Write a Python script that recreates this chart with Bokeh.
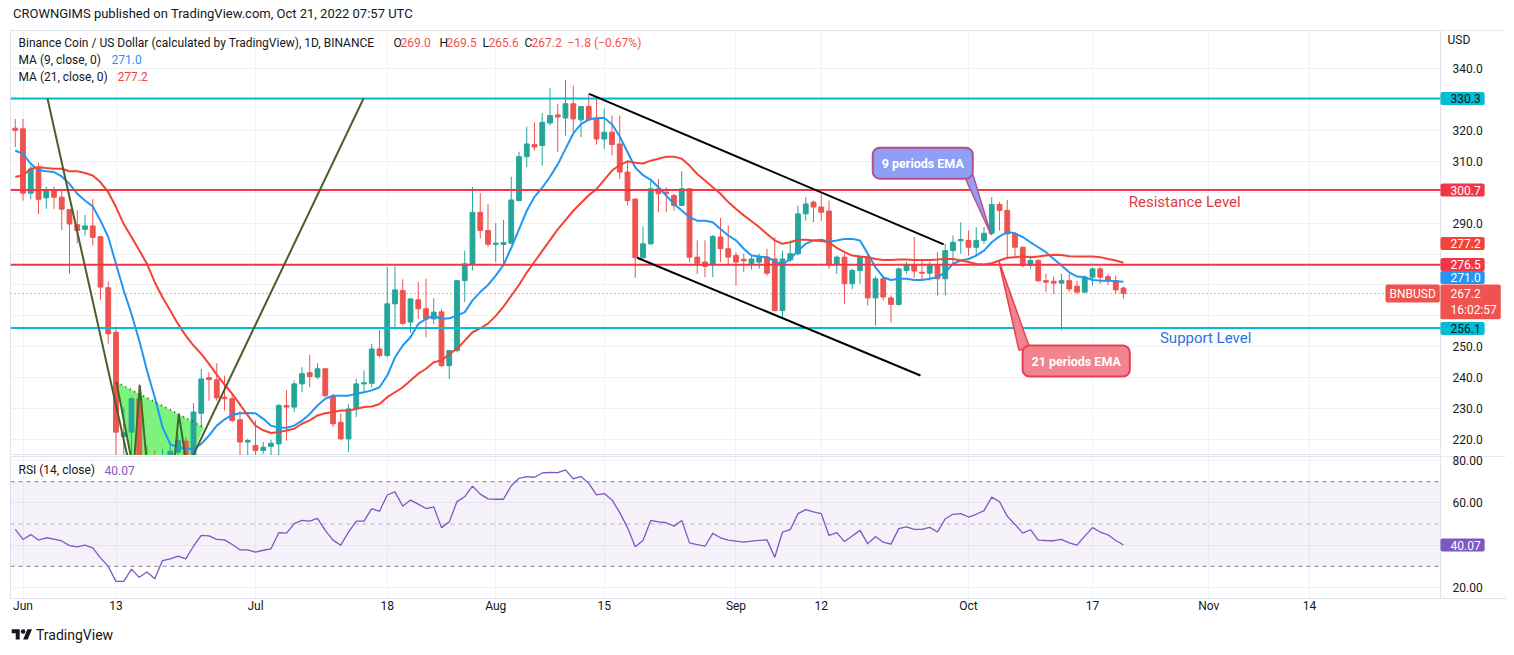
import pandas as pd
from bokeh.plotting import figure
from bokeh.layouts import column
from bokeh.models import (ColumnDataSource, Range1d, FixedTicker, Grid, Label,
                          BoxAnnotation, Div, NumeralTickFormatter)
from bokeh.embed import file_html
from bokeh.resources import INLINE

# ---- data (BNB/USD, 1D) ----
first_day = "2022-05-31"

opens = [320.7, 320.5, 299.7, 308.1, 298.2, 300.5, 298.4, 294.4, 289.5, 288.0,
         289.1, 285.6, 269.1, 254.7, 221.0, 222.4, 233.2, 207.0, 204.0, 198.0,
         212.0, 215.9, 219.5, 213.5, 228.5, 240.0, 239.3, 233.7, 233.2, 226.4,
         219.2, 218.1, 216.5, 217.8, 218.6, 231.0, 230.5, 238.0, 241.6, 240.2,
         242.9, 233.9, 225.6, 220.2, 229.9, 238.0, 238.2, 249.3, 247.2, 263.9,
         268.2, 258.0, 265.2, 262.3, 259.0, 261.3, 243.9, 248.8, 271.4, 276.8,
         293.5, 287.6, 283.1, 283.1, 283.5, 297.3, 311.5, 315.4, 315.1, 322.4,
         325.0, 324.0, 328.6, 323.4, 327.7, 323.7, 317.2, 319.4, 315.6, 306.5,
         297.8, 278.8, 283.3, 301.1, 300.0, 298.9, 295.7, 301.1, 279.0, 277.4,
         276.8, 285.5, 281.7, 279.5, 278.3, 277.0, 277.4, 279.0, 278.4, 261.7,
         278.1, 280.1, 293.0, 296.8, 295.2, 293.9, 276.8, 279.0, 270.4, 274.7,
         279.0, 265.8, 272.0, 265.8, 263.7, 274.7, 276.3, 274.1, 273.8, 276.3,
         272.0, 281.1, 284.3, 284.4, 282.2, 284.4, 286.7, 296.0, 294.1, 286.5,
         282.2, 276.3, 277.9, 271.4, 271.2, 270.6, 271.4, 269.6, 267.7, 272.5,
         275.2, 272.7, 271.4, 269.0]
highs = [323.7, 323.7, 308.6, 309.5, 301.8, 301.8, 301.1, 294.6, 294.1, 292.7,
         297.8, 285.8, 271.1, 256.5, 230.5, 233.7, 238.0, 218.0, 216.5, 217.0,
         219.0, 221.7, 220.8, 231.8, 242.9, 241.8, 244.7, 240.7, 234.8, 229.2,
         220.3, 226.2, 219.2, 219.9, 231.5, 235.9, 239.1, 243.4, 247.4, 244.7,
         243.0, 234.8, 228.3, 231.5, 239.6, 242.3, 251.0, 255.5, 275.8, 276.0,
         271.8, 265.5, 271.0, 272.0, 265.7, 262.3, 248.5, 271.6, 281.1, 301.7,
         299.7, 296.2, 290.0, 291.0, 305.0, 313.0, 321.2, 322.6, 325.6, 333.6,
         328.6, 336.3, 334.5, 327.7, 332.0, 330.2, 327.0, 324.8, 324.8, 310.2,
         297.9, 288.9, 303.8, 304.3, 301.6, 299.5, 306.8, 301.3, 284.4, 284.4,
         286.2, 291.7, 289.2, 280.6, 280.1, 279.5, 280.1, 281.7, 285.5, 281.1,
         284.4, 295.7, 298.4, 297.3, 299.5, 297.3, 279.5, 280.1, 275.2, 279.5,
         280.1, 272.7, 272.5, 266.6, 275.7, 277.4, 285.5, 278.4, 277.4, 280.6,
         283.3, 286.0, 290.3, 287.6, 288.7, 288.7, 298.4, 296.8, 297.5, 287.1,
         282.4, 279.5, 278.4, 273.6, 272.7, 273.6, 273.6, 271.4, 273.1, 275.7,
         275.7, 273.6, 273.1, 269.5]
lows = [314.6, 297.3, 297.7, 293.0, 294.6, 294.6, 287.8, 273.6, 283.5, 286.0,
        282.7, 265.2, 251.0, 210.0, 212.0, 213.0, 200.0, 198.0, 190.0, 183.0,
        208.0, 212.0, 210.0, 212.0, 224.0, 232.6, 232.6, 229.4, 225.6, 213.0,
        214.0, 213.0, 215.4, 214.0, 214.5, 219.7, 228.9, 235.3, 236.9, 239.6,
        233.7, 224.0, 220.0, 216.0, 227.3, 235.3, 236.9, 246.6, 246.6, 256.4,
        256.9, 254.5, 259.0, 253.1, 257.4, 243.4, 239.6, 248.2, 264.5, 274.7,
        285.0, 282.2, 277.4, 276.8, 283.3, 297.1, 308.1, 313.5, 308.6, 321.6,
        313.0, 318.3, 319.4, 317.8, 323.0, 315.4, 314.0, 311.9, 304.3, 295.7,
        272.3, 278.5, 283.0, 293.5, 293.5, 294.1, 295.5, 277.4, 273.6, 272.5,
        272.5, 277.4, 276.8, 269.8, 274.1, 275.0, 275.2, 273.0, 261.5, 259.6,
        277.4, 279.5, 290.8, 290.3, 290.8, 275.2, 273.6, 263.9, 268.7, 270.4,
        263.3, 256.9, 265.0, 257.9, 263.3, 273.6, 272.3, 271.4, 271.4, 266.6,
        266.6, 276.8, 280.1, 279.5, 279.5, 283.3, 286.0, 287.6, 278.4, 279.0,
        275.7, 275.2, 270.9, 267.7, 267.1, 255.3, 267.7, 267.1, 267.3, 269.8,
        270.4, 270.0, 267.1, 265.6]
closes = [320.0, 299.7, 307.5, 297.7, 300.5, 298.4, 294.5, 289.7, 287.6, 289.1,
          285.4, 269.3, 254.2, 222.4, 222.3, 233.2, 207.0, 204.0, 198.0, 206.0,
          216.2, 219.7, 213.5, 228.9, 239.6, 239.4, 233.5, 233.2, 226.2, 219.2,
          219.7, 216.5, 217.5, 218.8, 231.0, 230.5, 238.0, 241.3, 240.4, 242.9,
          234.2, 225.1, 220.2, 229.9, 238.0, 238.4, 249.3, 247.2, 263.9, 268.4,
          257.6, 265.5, 262.3, 259.0, 261.2, 243.9, 248.8, 271.4, 276.8, 293.5,
          287.6, 283.2, 283.5, 283.7, 297.5, 311.5, 315.6, 314.6, 322.6, 324.8,
          324.3, 328.6, 323.7, 327.7, 323.4, 317.2, 319.4, 315.4, 306.5, 297.3,
          278.8, 283.3, 301.1, 299.5, 299.5, 295.7, 301.1, 279.0, 277.0, 276.0,
          285.7, 281.7, 279.0, 277.4, 277.8, 278.4, 279.2, 273.8, 261.7, 278.4,
          280.1, 293.0, 296.2, 295.2, 293.5, 276.8, 279.0, 270.4, 274.7, 279.0,
          265.8, 272.0, 266.1, 263.7, 275.2, 276.3, 274.5, 273.8, 276.3, 272.0,
          281.1, 283.8, 284.7, 282.2, 284.4, 286.7, 296.0, 294.1, 286.5, 282.2,
          276.3, 277.9, 271.4, 270.9, 270.6, 271.4, 268.7, 267.7, 272.5, 275.2,
          272.5, 271.6, 268.4, 267.2]

ma9 = [313.5, 312.4, 309.2, 307.2, 306.8, 306.5, 305.1, 302.7, 299.5, 297.3,
       295.4, 290.8, 285.5, 276.8, 268.2, 260.6, 252.0, 242.3, 233.7, 224.0,
       218.5, 217.5, 217.0, 217.0, 218.6, 221.3, 224.5, 226.5, 228.0, 228.5,
       228.6, 228.5, 226.7, 224.5, 223.8, 223.8, 224.5, 226.1, 228.3, 231.0,
       233.2, 234.2, 234.2, 234.2, 234.8, 235.3, 235.9, 236.9, 240.7, 246.6,
       250.4, 253.1, 257.4, 259.0, 260.1, 259.0, 259.2, 260.1, 261.2, 265.0,
       267.7, 270.0, 273.0, 276.5, 282.0, 288.0, 294.0, 298.5, 301.5, 305.0,
       309.0, 314.0, 319.0, 322.0, 323.5, 324.0, 324.0, 322.0, 318.0, 313.0,
       308.0, 305.5, 304.0, 301.6, 298.9, 296.2, 294.1, 291.9, 290.8, 290.8,
       290.3, 288.1, 286.0, 284.4, 281.7, 279.5, 279.2, 279.0, 277.7, 276.6,
       278.4, 281.1, 283.3, 284.4, 284.6, 284.0, 284.4, 284.9, 284.9, 284.4,
       280.1, 275.7, 272.5, 271.6, 272.0, 272.0, 271.6, 271.6, 272.0, 272.5,
       274.1, 276.8, 277.9, 278.4, 279.5, 281.1, 283.8, 285.7, 287.1, 286.7,
       285.5, 283.8, 282.2, 280.6, 278.4, 276.3, 274.1, 272.7, 272.5, 271.6,
       271.4, 271.4, 271.2, 271.0]
ma21 = [305.0, 305.4, 307.6, 308.1, 307.8, 307.6, 307.6, 306.8, 306.8, 306.2,
        305.4, 303.2, 300.0, 295.2, 289.7, 285.5, 281.2, 276.8, 270.9, 266.0,
        261.7, 257.4, 253.6, 250.4, 247.7, 244.5, 241.0, 237.8, 234.8, 231.3,
        227.8, 224.5, 223.0, 222.1, 222.4, 222.9, 223.5, 225.1, 226.2, 227.8,
        228.5, 228.9, 229.4, 229.4, 229.9, 230.5, 230.7, 231.5, 233.7, 235.3,
        236.9, 239.1, 241.3, 242.9, 245.0, 245.6, 247.7, 249.3, 252.0, 254.7,
        256.0, 257.5, 260.0, 263.0, 266.5, 270.0, 274.0, 277.5, 281.0, 284.5,
        288.0, 291.0, 294.0, 296.5, 299.0, 301.0, 304.0, 307.0, 308.8, 310.0,
        309.5, 309.3, 310.2, 310.8, 311.5, 311.5, 310.8, 308.6, 305.9, 303.8,
        301.6, 299.5, 296.8, 294.6, 292.5, 290.6, 288.7, 286.5, 284.4, 283.3,
        283.8, 284.6, 284.6, 284.4, 284.2, 283.8, 282.0, 280.6, 279.5, 279.2,
        279.0, 278.4, 278.1, 278.1, 278.2, 278.2, 278.1, 278.1, 278.1, 278.2,
        278.4, 278.4, 277.9, 277.4, 276.8, 276.6, 277.0, 277.9, 278.8, 279.0,
        279.2, 279.0, 279.2, 279.5, 279.8, 279.7, 279.3, 279.2, 279.2, 279.2,
        279.0, 278.4, 277.9, 277.2]
rsi = [47.5, 42.7, 45.0, 42.4, 43.5, 42.9, 42.0, 39.8, 39.2, 40.0,
       38.7, 34.0, 30.0, 22.9, 22.9, 28.7, 24.8, 27.3, 24.1, 32.7,
       33.5, 34.8, 33.5, 39.5, 44.6, 44.4, 42.7, 42.5, 40.3, 37.8,
       37.8, 36.7, 37.6, 38.3, 45.9, 45.7, 50.2, 51.7, 51.4, 52.7,
       47.0, 42.4, 40.0, 46.2, 51.4, 51.4, 57.3, 56.0, 63.7, 65.2,
       58.4, 61.3, 59.4, 57.3, 58.1, 48.3, 51.0, 60.6, 62.9, 67.9,
       64.1, 61.9, 61.7, 61.7, 68.1, 71.6, 72.4, 72.1, 74.1, 74.4,
       74.3, 75.6, 71.3, 72.5, 69.2, 63.8, 64.4, 61.4, 55.4, 48.3,
       39.2, 42.2, 51.7, 51.0, 50.6, 49.0, 51.7, 41.1, 40.3, 39.5,
       45.6, 43.5, 42.4, 41.9, 41.4, 41.9, 42.3, 42.5, 34.3, 46.2,
       47.3, 54.9, 56.8, 55.7, 54.9, 44.6, 45.9, 41.7, 44.3, 47.0,
       40.6, 44.1, 41.4, 40.5, 47.8, 48.6, 47.5, 47.5, 48.4, 46.2,
       52.5, 54.6, 54.9, 53.3, 54.6, 56.3, 62.7, 60.5, 53.7, 49.8,
       45.7, 47.3, 42.4, 42.2, 42.1, 42.7, 41.1, 40.0, 44.3, 48.3,
       46.2, 44.9, 42.2, 40.07]

tick_dates = ["2022-06-01", "2022-06-13", "2022-07-01", "2022-07-18", "2022-08-01",
              "2022-08-15", "2022-09-01", "2022-09-12", "2022-10-01", "2022-10-17",
              "2022-11-01", "2022-11-14"]
tick_labels = ["Jun", "13", "Jul", "18", "Aug", "15", "Sep", "12", "Oct", "17", "Nov", "14"]

price_grid = [220, 230, 240, 250, 260, 270, 280, 290, 300, 310, 320, 330, 340]
price_shown = [220, 230, 240, 250, 290, 310, 320, 340]

levels = [330.3, 300.7, 276.5, 256.1]
level_colors = ["#00bcd4", "#f23645", "#f23645", "#00bcd4"]

# drawings as (day index, price) pairs
line_a_x, line_a_y = [4.16, 14.88], [330.3, 210.0]
line_b_x, line_b_y = [22.02, 44.94], [210.0, 330.3]
zigzag_x = [13.06, 15.26, 16.07, 17.06, 20.42, 21.1, 22.23]
zigzag_y = [238.55, 210.0, 237.5, 210.0, 210.0, 228.3, 210.0]
shade_x = [13.06, 24.33, 22.0, 15.26]
shade_y = [238.55, 224.0, 210.0, 210.0]
chan_up_x, chan_up_y = [74.06, 119.8], [331.8, 283.1]
chan_lo_x, chan_lo_y = [80.25, 116.8], [278.8, 240.7]

FONT = "Roboto"
UP, DOWN = "#26a69a", "#ef5350"
GRID = "#eef1f6"
TXT = "#131722"
BORDER = "#e0e3eb"

X0, X1 = -0.613, 192.42      # frame spans chart + price scale
EDGE = 183.9                 # where the price scale begins
P_LO, P_HI = 214.84, 352.3
R_LO, R_HI = 14.8, 81.9

start = pd.Timestamp(first_day)
days = list(range(len(opens)))
tick_x = [(pd.Timestamp(t) - start).days for t in tick_dates]

src = ColumnDataSource(dict(
    x=days, low=lows, high=highs,
    top=[max(o, c) for o, c in zip(opens, closes)],
    bottom=[min(o, c) for o, c in zip(opens, closes)],
    color=[UP if c >= o else DOWN for o, c in zip(opens, closes)],
))

xr = Range1d(X0, X1)


def scale_area(fig, lo, hi):
    # white price-scale strip with its separator line
    fig.quad(left=EDGE, right=X1, bottom=lo, top=hi, fill_color="white", line_color=None)
    fig.segment(x0=EDGE, x1=EDGE, y0=lo, y1=hi, line_color=BORDER, line_width=1)


def style_axis(ax):
    ax.major_tick_line_color = None
    ax.minor_tick_line_color = None
    ax.major_tick_out = 0
    ax.major_tick_in = 0
    ax.major_label_text_font = FONT
    ax.major_label_text_font_size = "12px"
    ax.major_label_text_color = TXT


def screen_text(fig, x, y, text, color=TXT, size="12px"):
    fig.add_layout(Label(x=x, y=y, x_units="screen", text=text, text_align="left",
                         text_baseline="middle", text_font=FONT, text_font_size=size,
                         text_color=color))


def tag(fig, y, text, bg, fg="white", x=1430, left=10, right=4):
    fig.add_layout(Label(x=x, y=y, x_units="screen", text=text, text_align="left",
                         text_baseline="middle", text_font=FONT, text_font_size="12px",
                         text_color=fg, background_fill_color=bg, border_radius=2,
                         padding=dict(left=left, right=right, top=2, bottom=2)))


# ---------------- header ----------------
header = Div(text=('<div style="font-family:Roboto;font-size:13px;color:#131722;'
                   'padding-left:13px;line-height:28px;">'
                   'CROWNGIMS published on TradingView.com, Oct 21, 2022 07:57 UTC</div>'),
             width=1506, height=30, margin=(0, 0, 0, 0))

# ---------------- main price panel ----------------
p = figure(frame_width=1496, frame_height=425, x_range=xr, y_range=Range1d(P_LO, P_HI),
           x_axis_location=None, y_axis_location="right", toolbar_location=None,
           output_backend="svg", min_border_left=10, min_border_right=0,
           min_border_top=0, min_border_bottom=0)
p.title.visible = False
p.outline_line_color = BORDER
for g in p.grid:
    g.visible = False
p.add_layout(Grid(dimension=0, ticker=FixedTicker(ticks=tick_x), grid_line_color=GRID))
p.add_layout(Grid(dimension=1, ticker=FixedTicker(ticks=price_grid), grid_line_color=GRID))

p.yaxis.ticker = FixedTicker(ticks=price_shown)
p.yaxis.formatter = NumeralTickFormatter(format="0.0")
p.yaxis.axis_line_color = None
p.yaxis.major_label_standoff = -54
style_axis(p.yaxis)

# shaded pattern
p.patch(shade_x, shade_y, fill_color="#7df27d", line_color=None)

# candles
p.segment(x0="x", y0="low", x1="x", y1="high", color="color", line_width=1, source=src)
p.vbar(x="x", width=0.62, top="top", bottom="bottom", fill_color="color",
       line_color="color", source=src)

# moving averages
p.line(days, ma9, line_color="#2196f3", line_width=2)
p.line(days, ma21, line_color="#f44336", line_width=2)

scale_area(p, P_LO, P_HI)

# horizontal levels and current price
p.segment(x0=X0, x1=EDGE, y0=levels, y1=levels, line_color=level_colors, line_width=2)
p.segment(x0=X0, x1=EDGE, y0=closes[-1], y1=closes[-1], line_color=DOWN,
          line_width=1, line_dash="1 3")

# drawings
p.line(zigzag_x, zigzag_y, line_color="#3f6b28", line_width=2)
p.line([shade_x[0], shade_x[1]], [shade_y[0], shade_y[1]], line_color="#2e5e1e",
       line_width=2, line_dash="1 4")
p.line(line_a_x, line_a_y, line_color="#4a5f2a", line_width=2)
p.line(line_b_x, line_b_y, line_color="#4a5f2a", line_width=2)
p.line(chan_up_x, chan_up_y, line_color="black", line_width=2)
p.line(chan_lo_x, chan_lo_y, line_color="black", line_width=2)

# callout tails
p.patch([122.4, 123.6, 125.9], [305.5, 305.5, 286.3], fill_color="#8e9ff5",
        line_color="#b9508b", line_width=1.5)
p.patch([129.5, 131.0, 126.9], [249.0, 249.0, 277.9], fill_color="#f2848f",
        line_color="#e8414f", line_width=1.5)

pad_box = dict(left=9, right=9, top=8, bottom=8)
p.add_layout(Label(x=117.1, y=309.4, text="9 periods EMA", text_align="center",
                   text_baseline="middle", text_font=FONT, text_font_size="12.5px",
                   text_font_style="bold", text_color="white",
                   background_fill_color="#8e9ff5", border_line_color="#b9508b",
                   border_line_width=2, border_radius=7, padding=pad_box))
p.add_layout(Label(x=136.9, y=245.4, text="21 periods EMA", text_align="center",
                   text_baseline="middle", text_font=FONT, text_font_size="12.5px",
                   text_font_style="bold", text_color="white",
                   background_fill_color="#f2848f", border_line_color="#e8414f",
                   border_line_width=2, border_radius=7, padding=pad_box))

p.add_layout(Label(x=150.9, y=296.7, text="Resistance Level", text_align="center",
                   text_baseline="middle", text_font=FONT, text_font_size="15px",
                   text_color="#e03a47"))
p.add_layout(Label(x=153.6, y=252.7, text="Support Level", text_align="center",
                   text_baseline="middle", text_font=FONT, text_font_size="15px",
                   text_color="#2f6fe0"))

# legend rows
screen_text(p, 8, 348.4, "Binance Coin / US Dollar (calculated by TradingView), 1D, BINANCE")
for x, t, c in [(383, "O", TXT), (390, "269.0", DOWN), (429, "H", TXT), (436, "269.5", DOWN),
                (472, "L", TXT), (478, "265.6", DOWN), (514, "C", TXT), (521, "267.2", DOWN),
                (557, "\u22121.8 (\u22120.67%)", DOWN)]:
    screen_text(p, x, 348.4, t, c)
screen_text(p, 8, 342.9, "MA (9, close, 0)")
screen_text(p, 101, 342.9, "271.0", "#2196f3")
screen_text(p, 8, 337.4, "MA (21, close, 0)")
screen_text(p, 107, 337.4, "277.2", "#f44336")
screen_text(p, 1437, 349.1, "USD")

tag(p, 330.3, "330.3", "#00bcd4", TXT)
tag(p, 300.7, "300.7", "#f23645")
tag(p, 283.4, "277.2", "#f44336")
tag(p, 276.6, "276.5", "#f23645")
tag(p, 272.4, "271.0", "#2196f3")
tag(p, 264.5, "267.2\n16:02:57", DOWN)
tag(p, 255.9, "256.1", "#00bcd4", TXT)
tag(p, 267.2, "BNBUSD", DOWN, x=1375, left=4, right=4)

# ---------------- RSI panel ----------------
r = figure(frame_width=1496, frame_height=142, x_range=xr, y_range=Range1d(R_LO, R_HI),
           y_axis_location="right", toolbar_location=None, output_backend="svg",
           min_border_left=10, min_border_right=0, min_border_top=1, min_border_bottom=0)
r.outline_line_color = BORDER
r.xgrid.ticker = FixedTicker(ticks=tick_x)
r.ygrid.ticker = FixedTicker(ticks=[20, 40, 60, 80])
r.grid.grid_line_color = GRID
r.add_layout(BoxAnnotation(left=X0, right=EDGE, bottom=30, top=70, fill_color="#7e57c2",
                           fill_alpha=0.08, line_color=None, level="underlay"))
scale_area(r, R_LO, R_HI)
r.segment(x0=X0, x1=EDGE, y0=[70, 50, 30], y1=[70, 50, 30], line_color="#787b86",
          line_alpha=[0.9, 0.5, 0.9], line_width=1, line_dash="4 4")
r.line(days, rsi, line_color="#7e57c2", line_width=1.3)

r.yaxis.ticker = FixedTicker(ticks=[20, 60, 80])
r.yaxis.formatter = NumeralTickFormatter(format="0.00")
r.yaxis.axis_line_color = None
r.yaxis.major_label_standoff = -54
r.xaxis.ticker = FixedTicker(ticks=tick_x)
r.xaxis.major_label_overrides = {x: l for x, l in zip(tick_x, tick_labels)}
r.xaxis.axis_line_color = BORDER
r.xaxis.major_label_standoff = 0
style_axis(r.xaxis)
style_axis(r.yaxis)

screen_text(r, 8, 75.3, "RSI (14, close)")
screen_text(r, 94, 75.3, "40.07", "#7e57c2")
tag(r, 40.07, "40.07", "#7e57c2")

# ---------------- footer ----------------
logo = ('<svg width="22" height="16" viewBox="0 0 36 28">'
        '<path d="M14 22H7V11H0V4h14v18zM28 22h-8l7.5-18h8L28 22z" fill="#131722"/>'
        '<circle cx="20" cy="8" r="4" fill="#131722"/></svg>')
footer = Div(text=('<div style="display:flex;align-items:center;font-family:Roboto;'
                   'font-size:14px;color:#131722;padding-left:11px;">' + logo +
                   '<span style="margin-left:3px">TradingView</span></div>'),
             width=1506, height=26, margin=(10, 0, 0, 0))

layout = column(header, p, r, footer)
open("out.html", "w").write(file_html(layout, INLINE))
